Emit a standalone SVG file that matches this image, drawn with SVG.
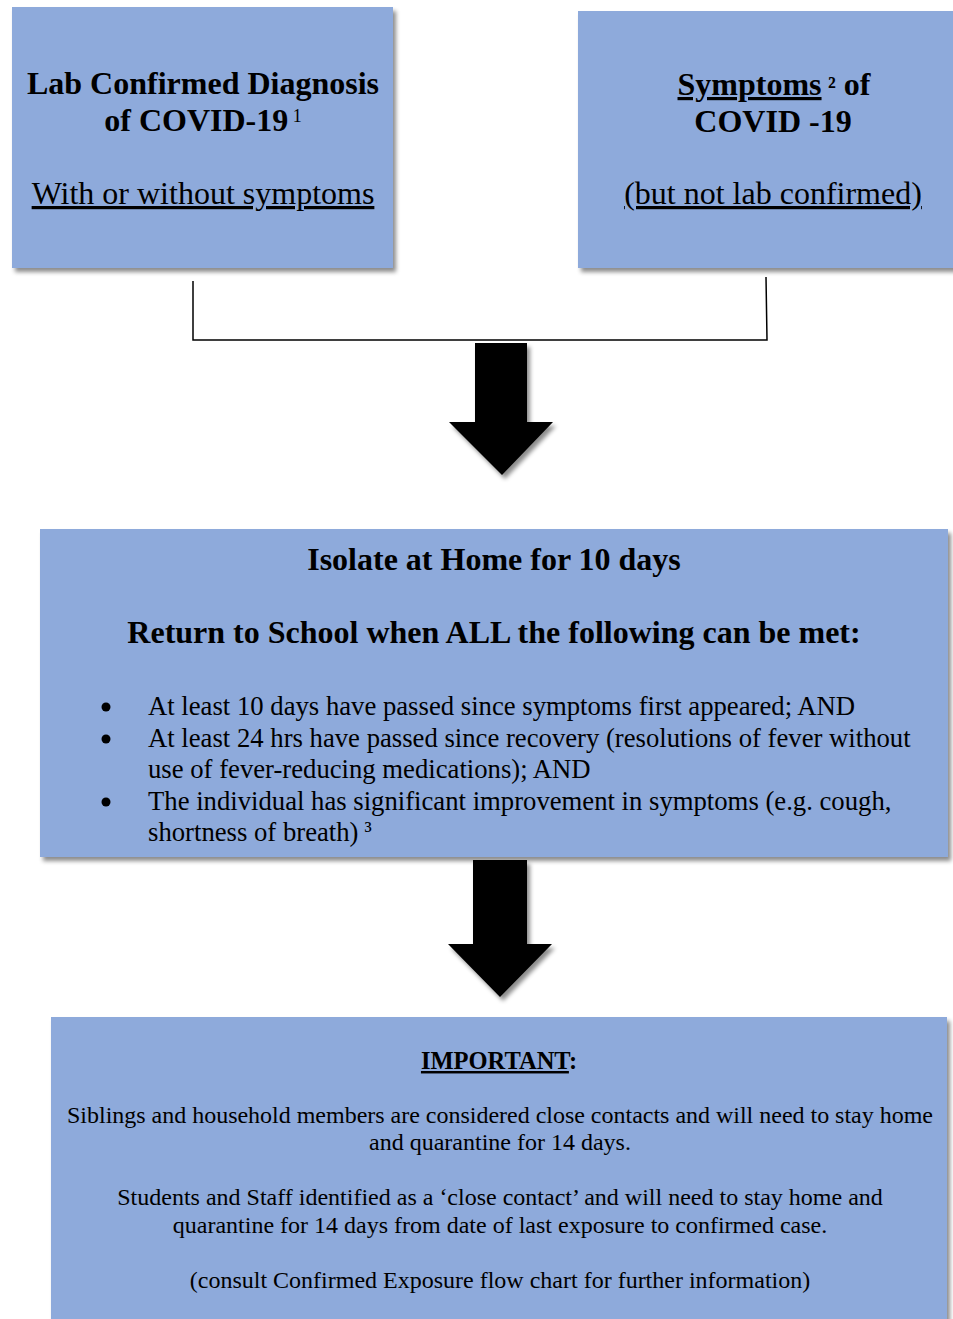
<svg xmlns="http://www.w3.org/2000/svg" width="953" height="1319" viewBox="0 0 953 1319">
<defs>
<filter id="sh" x="-5%" y="-5%" width="115%" height="120%">
<feDropShadow dx="3" dy="4" stdDeviation="2" flood-color="#000" flood-opacity="0.45"/>
</filter>
<style>
.box{fill:#8EAADB;filter:url(#sh)}
.t{font-family:"Liberation Serif","Times New Roman",serif;fill:#000}
.b{font-weight:bold}
.c{text-anchor:middle}
.u{text-decoration:underline}
.arrow{fill:#000;filter:url(#sh)}
.conn{fill:none;stroke:#000;stroke-width:1.5}
.bul{fill:#000}
</style>
</defs>
<rect width="953" height="1319" fill="#fff"/>

<g id="connectors">
<polyline class="conn" points="193,281 193,340 767,340 766,277"/>
<polygon class="arrow" points="475,343 527,343 527,422 553,422 502,475 449,422 475,422"/>
<polygon class="arrow" points="473,860 527,860 527,944 552,944 500,997 448,944 473,944"/>
</g>

<g id="node-lab-confirmed">
<rect class="box" x="12" y="7" width="381" height="261"/>
<text class="t b c" x="203" y="94" font-size="32">Lab Confirmed Diagnosis</text>
<text class="t b c" x="203" y="131" font-size="32">of COVID-19<tspan font-weight="normal" font-size="18" dy="-9"> 1</tspan></text>
<text class="t c u" x="203" y="204" font-size="32">With or without symptoms</text>
</g>

<g id="node-symptoms">
<rect class="box" x="578" y="11" width="390" height="257"/>
<text class="t b c" x="774" y="95" font-size="32"><tspan class="u">Symptoms</tspan><tspan font-size="26"> ²</tspan> of</text>
<text class="t b c" x="773" y="132" font-size="32">COVID -19</text>
<text class="t c u" x="773" y="204" font-size="32">(but not lab confirmed)</text>
</g>

<g id="node-isolate">
<rect class="box" x="40" y="529" width="908" height="328"/>
<text class="t b c" x="494" y="570" font-size="32">Isolate at Home for 10 days</text>
<text class="t b c" x="494" y="643" font-size="32">Return to School when ALL the following can be met:</text>
<circle class="bul" cx="106" cy="707" r="4.5"/>
<circle class="bul" cx="106" cy="739" r="4.5"/>
<circle class="bul" cx="106" cy="802" r="4.5"/>
<text class="t" x="148" y="715" font-size="26.7">At least 10 days have passed since symptoms first appeared; AND</text>
<text class="t" x="148" y="747" font-size="26.7">At least 24 hrs have passed since recovery (resolutions of fever without</text>
<text class="t" x="148" y="778" font-size="26.7">use of fever-reducing medications); AND</text>
<text class="t" x="148" y="810" font-size="26.7">The individual has significant improvement in symptoms (e.g. cough,</text>
<text class="t" x="148" y="841" font-size="26.7">shortness of breath)<tspan font-size="24" dy="-2"> ³</tspan></text>
</g>

<g id="node-important">
<rect class="box" x="51" y="1017" width="896" height="320"/>
<text class="t b c" x="499" y="1069" font-size="24.5"><tspan class="u">IMPORTANT</tspan>:</text>
<text class="t c" x="500" y="1123" font-size="24" textLength="866">Siblings and household members are considered close contacts and will need to stay home</text>
<text class="t c" x="500" y="1150" font-size="24">and quarantine for 14 days.</text>
<text class="t c" x="500" y="1205" font-size="24">Students and Staff identified as a ‘close contact’ and will need to stay home and</text>
<text class="t c" x="500" y="1233" font-size="24">quarantine for 14 days from date of last exposure to confirmed case.</text>
<text class="t c" x="500" y="1288" font-size="24">(consult Confirmed Exposure flow chart for further information)</text>
</g>
</svg>
